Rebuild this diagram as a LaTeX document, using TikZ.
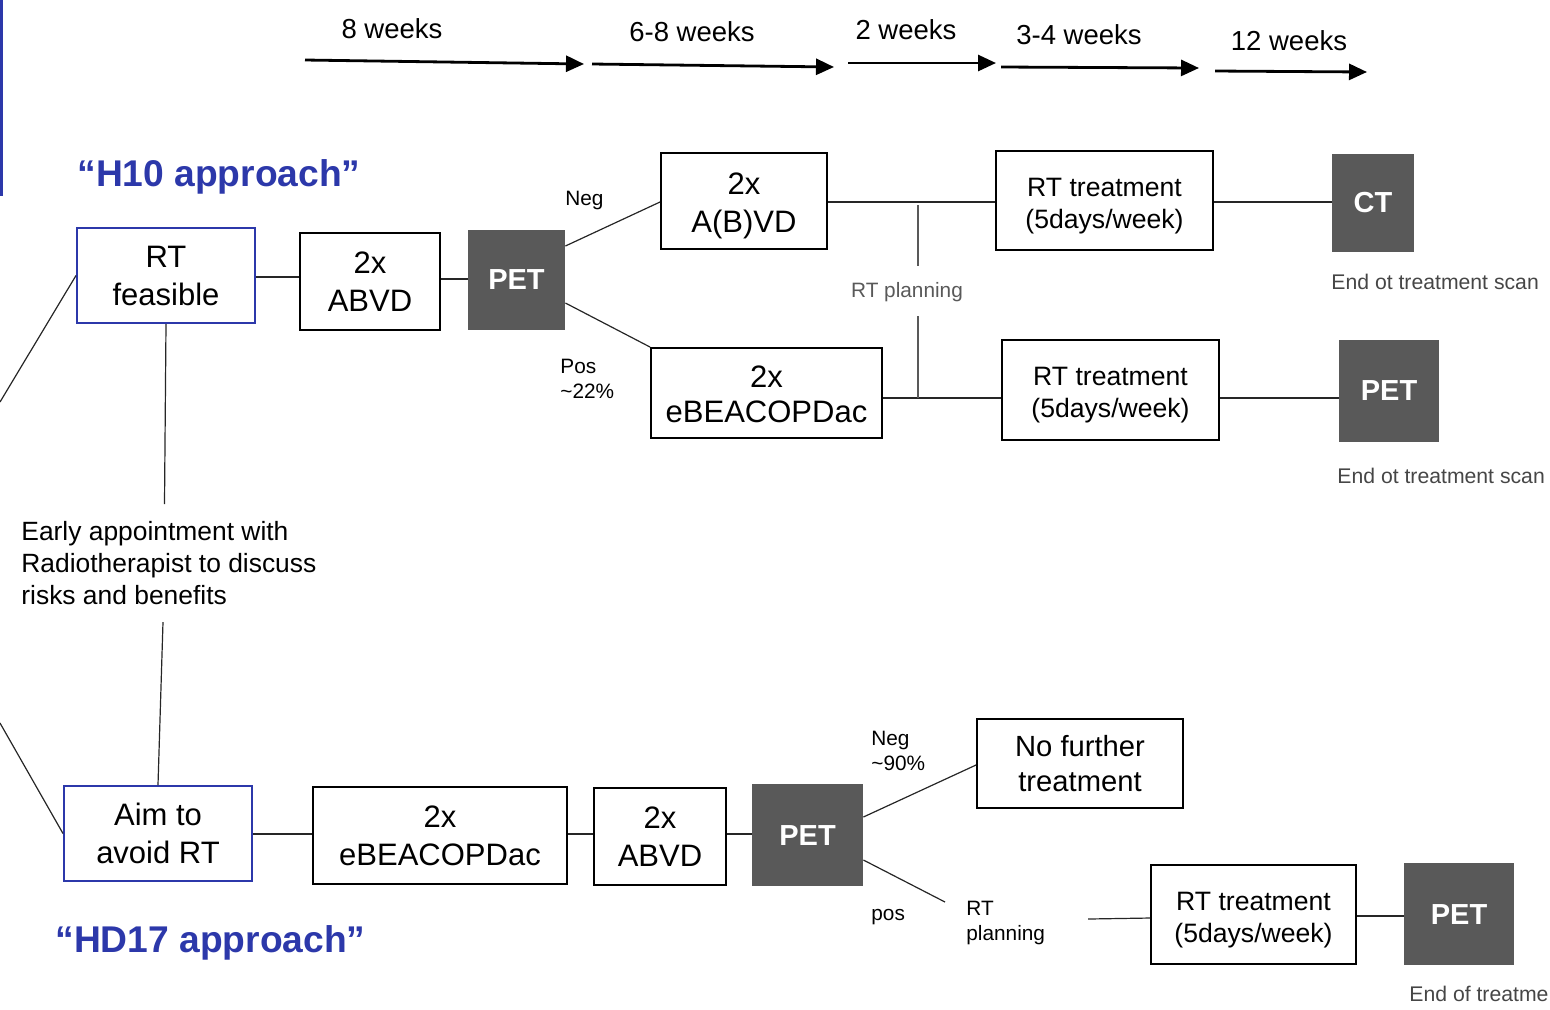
\documentclass[tikz,border=0pt]{standalone}
\usepackage{fontspec}
\setmainfont{Liberation Sans}
\usetikzlibrary{arrows.meta}
\definecolor{bluec}{RGB}{44,56,170}
\definecolor{petgray}{RGB}{89,89,89}
\definecolor{labgray}{RGB}{70,70,70}
\begin{document}
\begin{tikzpicture}[x=0.5pt,y=-0.5pt,
  box/.style={draw=black,line width=1pt,inner sep=0pt,align=center,font=\fontsize{15.5}{19}\selectfont},
  bluebox/.style={box,draw=bluec},
  rtbox/.style={box,font=\fontsize{13.3}{16}\selectfont},
  scan/.style={fill=petgray,inner sep=0pt,text=white,font=\bfseries\fontsize{14.5}{17}\selectfont},
  conn/.style={line width=0.6pt,draw=black!85},
  small/.style={font=\fontsize{10.4}{12.5}\selectfont,align=left,inner sep=0pt,anchor=west},
  endlab/.style={font=\fontsize{10.6}{12}\selectfont,text=labgray,inner sep=0pt,anchor=west},
  week/.style={font=\fontsize{13.75}{16}\selectfont,inner sep=0pt},
  warrow/.style={line width=1.4pt,-{Triangle[length=9pt,width=8pt]}},
  title/.style={font=\bfseries\fontsize{18.6}{22}\selectfont,text=bluec,inner sep=0pt,anchor=west}]
\useasboundingbox (0,0) rectangle (1550,1009);

% left blue edge line
\coordinate (bl1) at (1.5,0);
\coordinate (bl2) at (1.5,196);
\draw[bluec,line width=1.2pt] (bl1) -- (bl2);

% timeline
\node[week] (w1) at (392,29) {8 weeks};
\node[week] (w2) at (692,32) {6-8 weeks};
\node[week] (w3) at (906,30) {2 weeks};
\node[week] (w4) at (1079,35) {3-4 weeks};
\node[week] (w5) at (1289,41) {12 weeks};
\coordinate (a1s) at (305,60);  \coordinate (a1e) at (584,64);
\coordinate (a2s) at (592,64);  \coordinate (a2e) at (834,67);
\coordinate (a3s) at (848,63);  \coordinate (a3e) at (996,63);
\coordinate (a4s) at (1001,67); \coordinate (a4e) at (1199,68);
\coordinate (a5s) at (1215,71); \coordinate (a5e) at (1367,72);
\draw[warrow] (a1s) -- (a1e);
\draw[warrow] (a2s) -- (a2e);
\draw[warrow] (a3s) -- (a3e);
\draw[warrow] (a4s) -- (a4e);
\draw[warrow] (a5s) -- (a5e);

% titles
\node[title] (h10) at (77,177) {“H10 approach”};
\node[title] (hd17) at (55,943) {“HD17 approach”};

% H10 branch
\node[bluebox,minimum width=89pt,minimum height=47.5pt] (rtf) at (166,275.5) {RT\\feasible};
\node[box,minimum width=70pt,minimum height=48.5pt] (abvd1) at (370,281.5) {2x\\ABVD};
\node[scan,minimum width=48.5pt,minimum height=50pt] (pet1) at (516.5,280) {PET};
\node[box,minimum width=83pt,minimum height=48pt] (abvd2) at (744,201) {\rule{0pt}{16pt}2x\\A(B)VD};
\node[box,minimum width=115.5pt,minimum height=45pt,font=\fontsize{15.5}{17.5}\selectfont] (beac1) at (766.5,393) {\rule{0pt}{12pt}2x\\eBEACOPDac};
\node[rtbox,minimum width=108.5pt,minimum height=49.5pt] (rt1) at (1104.5,200.5) {\rule{0pt}{14.5pt}RT treatment\\(5days/week)};
\node[rtbox,minimum width=108.5pt,minimum height=50pt] (rt2) at (1110.5,390) {\rule{0pt}{14.5pt}RT treatment\\(5days/week)};
\node[scan,minimum width=41pt,minimum height=49pt] (ct) at (1373,203) {CT};
\node[scan,minimum width=50pt,minimum height=51pt] (pet2) at (1389,391) {PET};
\node[endlab] (e1) at (1331,282) {End ot treatment scan};
\node[endlab] (e2) at (1337,476) {End ot treatment scan};

\node[small] (neg1) at (565,200) {Neg};
\node[small] (pos1) at (560,379) {Pos\\\textasciitilde 22\%};
\node[font=\fontsize{10.4}{12.5}\selectfont,text=petgray,inner sep=0pt] (rtp1) at (907,292) {RT planning};

\draw[conn] (rtf.east |- 0,277) -- (abvd1.west |- 0,277);
\draw[conn] (abvd1.east |- 0,279) -- (pet1.west |- 0,279);
\draw[conn] (pet1.east |- 0,246) -- (abvd2.west |- 0,202);
\draw[conn] (pet1.east |- 0,303) -- (beac1.north west);
\draw[conn] (abvd2.east |- 0,202) -- (rt1.west |- 0,202);
\draw[conn] (beac1.east |- 0,398) -- (rt2.west |- 0,398);
\draw[conn] (rt1.east |- 0,202) -- (ct.west |- 0,202);
\draw[conn] (rt2.east |- 0,398) -- (pet2.west |- 0,398);
\coordinate (v1) at (918,205);
\coordinate (v2) at (918,398);
\draw[line width=0.6pt,draw=petgray] (v1) -- ([yshift=8pt]rtp1.north -| v1);
\draw[line width=0.6pt,draw=petgray] ([yshift=-7pt]rtp1.south -| v1) -- (v2);

% left connectors
\coordinate (l1) at (0,402);
\coordinate (l2) at (0,723);
\draw[conn] (l1) -- (rtf.west);

% discussion
\node[font=\fontsize{13.2}{16}\selectfont,align=left,inner sep=0pt,anchor=north west] (disc) at (21,521) {Early appointment with\\Radiotherapist to discuss\\risks and benefits};
\coordinate (d1) at (164.5,504);
\coordinate (d2) at (163,622);
\draw[conn] (rtf.south) -- (d1);

% HD17 branch
\node[bluebox,minimum width=94pt,minimum height=47.5pt] (aim) at (158,833.5) {Aim to\\avoid RT};
\draw[conn] (d2) -- (aim.north);
\draw[conn] (l2) -- (aim.west);
\node[box,minimum width=127pt,minimum height=48.5pt] (beac2) at (440,835.5) {2x\\eBEACOPDac};
\node[box,minimum width=66pt,minimum height=48.5pt] (abvd3) at (660,836.5) {2x\\ABVD};
\node[scan,minimum width=55.5pt,minimum height=51pt] (pet3) at (807.5,835) {PET};
\node[box,minimum width=103pt,minimum height=44.5pt,font=\fontsize{14.6}{17.5}\selectfont] (nft) at (1080,763.5) {No further\\treatment};
\node[rtbox,minimum width=102.5pt,minimum height=49.5pt] (rt3) at (1253.5,914.5) {\rule{0pt}{14.5pt}RT treatment\\(5days/week)};
\node[scan,minimum width=55pt,minimum height=51pt] (pet4) at (1459,914) {PET};
\node[endlab] (e3) at (1409,994) {End of treatme};

\node[small] (neg2) at (871,751) {Neg\\\textasciitilde 90\%};
\node[small] (pos2) at (871,917) {pos};
\node[small] (rtp2) at (966,923) {RT\\planning};

\draw[conn] (aim.east |- 0,834) -- (beac2.west |- 0,834);
\draw[conn] (beac2.east |- 0,834) -- (abvd3.west |- 0,834);
\draw[conn] (abvd3.east |- 0,834) -- (pet3.west |- 0,834);
\draw[conn] (pet3.east |- 0,817) -- (nft.west |- 0,765);
\coordinate (pe) at (945,902);
\draw[conn] (pet3.east |- 0,860) -- (pe);
\coordinate (ps) at (1088,919);
\draw[conn] (ps) -- (rt3.west |- 0,918);
\draw[conn] (rt3.east |- 0,916) -- (pet4.west |- 0,916);
\end{tikzpicture}
\end{document}
